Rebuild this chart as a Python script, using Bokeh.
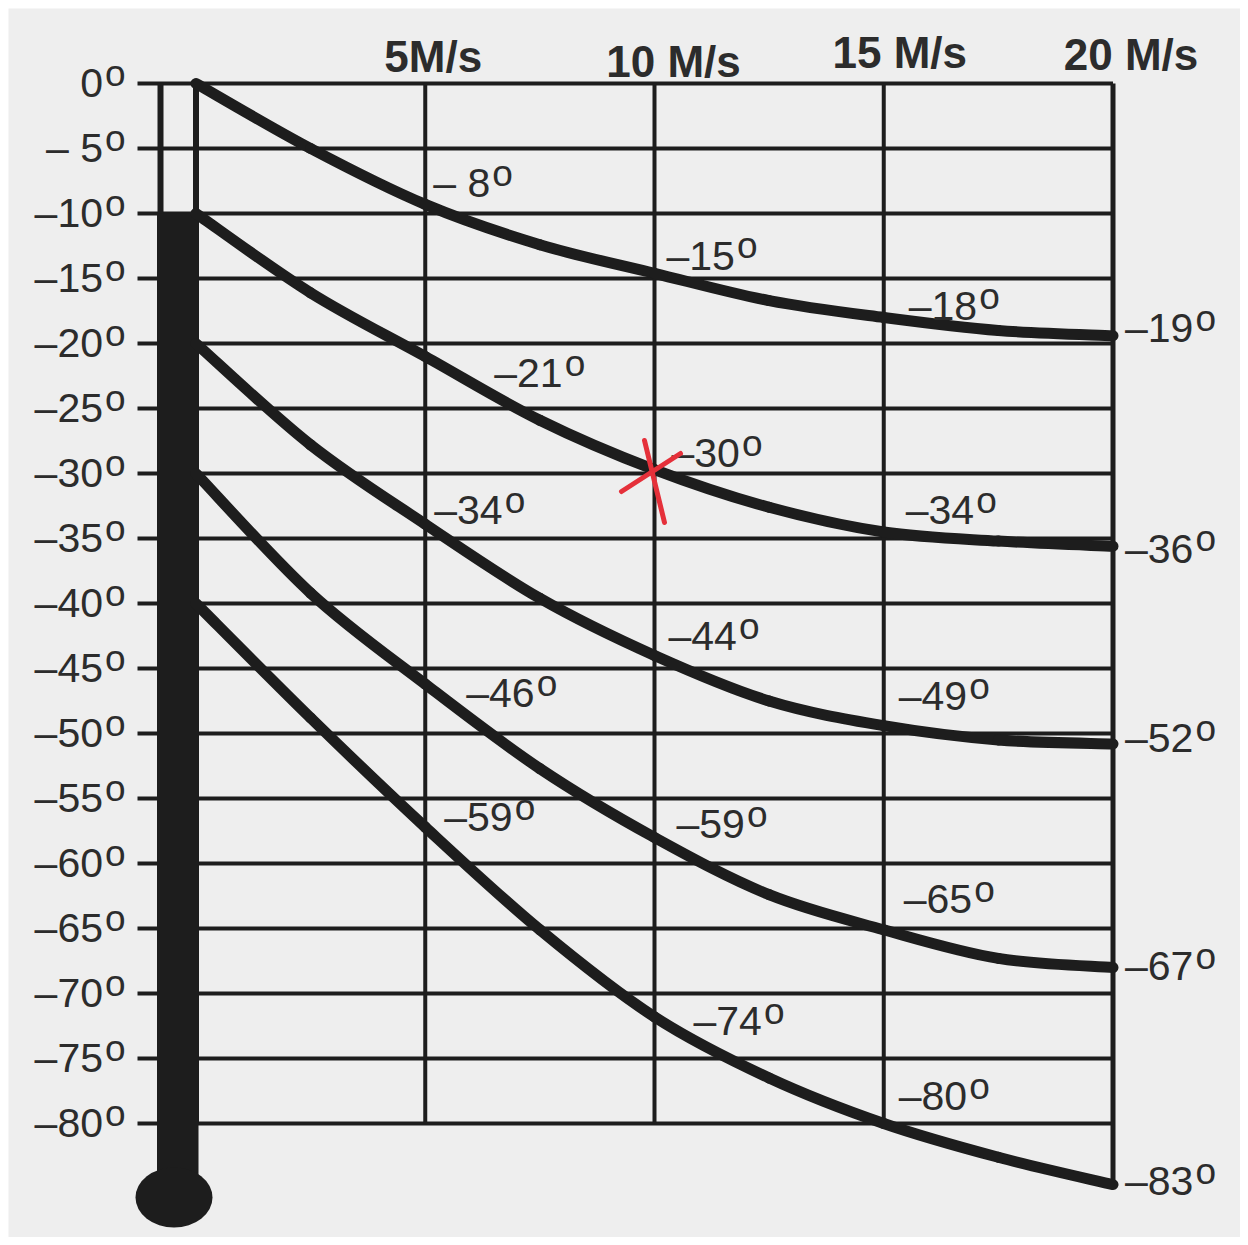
from bokeh.plotting import figure
from bokeh.models import Range1d, ColumnDataSource
from bokeh.core.properties import value
from bokeh.embed import file_html
from bokeh.resources import INLINE

# ---------------- data ----------------
speeds = [0, 2.5, 5, 7.5, 10, 12.5, 15, 17.5, 20]          # wind speed, m/s
chill_0 = [0, -5.0, -9.3, -12.4, -14.6, -16.7, -18.0, -19.0, -19.4]
chill_10 = [-10, -16.1, -21.0, -25.9, -29.7, -32.6, -34.5, -35.2, -35.6]
chill_20 = [-20, -27.8, -33.9, -39.6, -44.0, -47.5, -49.4, -50.5, -50.8]
chill_30 = [-30, -39.2, -46.2, -52.7, -58.0, -62.4, -65.1, -67.3, -68.0]
chill_40 = [-40, -48.8, -57.2, -65.1, -71.8, -76.5, -80.0, -82.6, -84.7]

temp_ticks = [0, -5, -10, -15, -20, -25, -30, -35, -40, -45, -50, -55, -60, -65, -70, -75, -80]
temp_labels = ["0", "– 5", "–10", "–15", "–20", "–25", "–30", "–35", "–40",
               "–45", "–50", "–55", "–60", "–65", "–70", "–75", "–80"]
speed_ticks = [5, 10, 15, 20]
speed_labels = ["5M/s", "10 M/s", "15 M/s", "20 M/s"]

label_speeds = [5, 10, 15]
labels_0 = ["– 8", "–15", "–18"]
labels_10 = ["–21", "–30", "–34"]
labels_20 = ["–34", "–44", "–49"]
labels_30 = ["–46", "–59", "–65"]
labels_40 = ["–59", "–74", "–80"]
end_labels = ["–19", "–36", "–52", "–67", "–83"]
filled_to = -10        # thermometer column filled from this temperature down
marked_speed, marked_temp = 10, -30   # red hand mark

curves = [chill_0, chill_10, chill_20, chill_30, chill_40]
curve_labels = [labels_0, labels_10, labels_20, labels_30, labels_40]

# ---------------- styling / layout ----------------
W, H = 1240, 1237
M = 8                       # white margin (left/top) round the paper
FW, FH = W - M, H - M       # frame size
PX = 45.85      # px per m/s
PY = 13.0       # px per degree
X0 = -(195.5 - M) / PX
Y1 = (83 - M) / PY
INK = "#1d1d1d"
TXT = "#2c2c2c"
PAPER = "#eeeeee"
FONT = value("Liberation Sans")
FS = 41
OFS = 37
BASE = 0.36     # baseline correction factor (fraction of font size)

# pixel offsets of the in-chart labels (dx, dy of baseline vs curve point)
label_offsets = [
    [(8, -7), (12, -3), (25, 3)],
    [(69, 31), (17, -2), (22, -7)],
    [(9, 1), (14, -5), (15, -15)],
    [(41, 24), (22, 1), (20, -16)],
    [(19, 5), (39, 19), (15, -13)],
]
end_offsets = [7, 17, 9, 13, 11]
top_offsets = [(8, -11), (19, -6), (16, -15), (18, -13)]

CW = {"–": 556, " ": 278, "0": 556, "1": 556, "2": 556, "3": 556, "4": 556,
      "5": 556, "6": 556, "7": 556, "8": 556, "9": 556}


def twidth(s, size):
    return sum(CW.get(c, 556) for c in s) / 1000.0 * size


def bl(dy, size):
    return dy - BASE * size


p = figure(width=W, height=H, output_backend="svg", toolbar_location=None,
           x_range=Range1d(X0, X0 + FW / PX), y_range=Range1d(Y1 - FH / PY, Y1),
           x_axis_location=None, y_axis_location=None,
           min_border_left=M, min_border_top=M, min_border_right=0, min_border_bottom=0,
           background_fill_color=PAPER, border_fill_color="white",
           outline_line_color=None)
p.grid.visible = False

# horizontal lines (with tick stubs to the left of the thermometer)
x_left = -58.5 / PX
p.segment(x0=[x_left] * len(temp_ticks), y0=temp_ticks,
          x1=[speed_ticks[-1]] * len(temp_ticks), y1=temp_ticks,
          line_width=4, line_color=INK)
# vertical lines
p.segment(x0=speed_ticks[:-1], y0=[temp_ticks[0]] * 3, x1=speed_ticks[:-1],
          y1=[temp_ticks[-1]] * 3, line_width=4, line_color=INK)
p.segment(x0=[speed_ticks[-1]], y0=[temp_ticks[0]], x1=[speed_ticks[-1]],
          y1=[chill_40[-1]], line_width=5, line_color=INK)

# thermometer
tube_l = -35.5 / PX
p.segment(x0=[tube_l, 0], y0=[0, 0], x1=[tube_l, 0], y1=[filled_to, temp_ticks[-1]],
          line_width=6, line_color=INK)
bulb_y = temp_ticks[-1] - 74 / PY
p.quad(left=[tube_l - 3.5 / PX], right=[2.5 / PX], top=[filled_to],
       bottom=[bulb_y + 10 / PY], fill_color=INK, line_color=None)
p.ellipse(x=[-22 / PX], y=[bulb_y], width=[77 / PX], height=[60 / PY],
          fill_color=INK, line_color=None)


# wind-chill curves: smooth cubic pieces passing through every read point
def bezier_source(xs, ys):
    n = len(xs)
    d = dict(x0=[], y0=[], x1=[], y1=[], cx0=[], cy0=[], cx1=[], cy1=[])
    for i in range(n - 1):
        a = max(i - 1, 0)
        b = min(i + 2, n - 1)
        d["x0"].append(xs[i]); d["y0"].append(ys[i])
        d["x1"].append(xs[i + 1]); d["y1"].append(ys[i + 1])
        d["cx0"].append(xs[i] + (xs[i + 1] - xs[a]) / 6.0)
        d["cy0"].append(ys[i] + (ys[i + 1] - ys[a]) / 6.0)
        d["cx1"].append(xs[i + 1] - (xs[b] - xs[i]) / 6.0)
        d["cy1"].append(ys[i + 1] - (ys[b] - ys[i]) / 6.0)
    return ColumnDataSource(d)


for c in curves:
    p.bezier(x0="x0", y0="y0", x1="x1", y1="y1", cx0="cx0", cy0="cy0",
             cx1="cx1", cy1="cy1", source=bezier_source(speeds, c),
             line_width=11, line_color=INK, line_cap="round")

# left temperature labels
src_l = ColumnDataSource(dict(x=[0] * len(temp_ticks), y=temp_ticks, t=temp_labels))
p.text(x="x", y="y", text="t", source=src_l, x_offset=-93, y_offset=bl(14, FS),
       text_align="right", text_baseline="alphabetic", text_font=FONT,
       text_font_size=value(f"{FS}px"), text_color=TXT)
p.text(x="x", y="y", text=value("o"), source=src_l, x_offset=-91, y_offset=bl(3, OFS),
       text_align="left", text_baseline="alphabetic", text_font=FONT,
       text_font_size=value(f"{OFS}px"), text_color=TXT)

# top speed labels
p.text(x=speed_ticks, y=[0] * 4, text=speed_labels,
       x_offset=[o[0] for o in top_offsets], y_offset=[bl(o[1], 44) for o in top_offsets],
       text_align="center", text_baseline="alphabetic", text_font=FONT,
       text_font_style="bold", text_font_size=value("44px"), text_color=TXT)

# in-chart labels
lx, ly, lt, ldx, ldy, odx, ody = [], [], [], [], [], [], []
for ci, c in enumerate(curves):
    for li, sp in enumerate(label_speeds):
        t = curve_labels[ci][li]
        dx, dy = label_offsets[ci][li]
        lx.append(sp); ly.append(c[speeds.index(sp)]); lt.append(t)
        ldx.append(dx); ldy.append(bl(dy, FS))
        odx.append(dx + twidth(t, FS) + 2); ody.append(bl(dy - 11, OFS))
    t = end_labels[ci]
    lx.append(speeds[-1]); ly.append(c[-1]); lt.append(t)
    ldx.append(12); ldy.append(bl(end_offsets[ci], FS))
    odx.append(12 + twidth(t, FS) + 2); ody.append(bl(end_offsets[ci] - 11, OFS))

src_i = ColumnDataSource(dict(x=lx, y=ly, t=lt, dx=ldx, dy=ldy, odx=odx, ody=ody))
p.text(x="x", y="y", text="t", source=src_i, x_offset="dx", y_offset="dy",
       text_align="left", text_baseline="alphabetic", text_font=FONT,
       text_font_size=value(f"{FS}px"), text_color=TXT)
p.text(x="x", y="y", text=value("o"), source=src_i, x_offset="odx", y_offset="ody",
       text_align="left", text_baseline="alphabetic", text_font=FONT,
       text_font_size=value(f"{OFS}px"), text_color=TXT)

# red hand-drawn mark
mx0 = [marked_speed - 10 / PX, marked_speed - 33 / PX]
my0 = [marked_temp + 33 / PY, marked_temp - 18 / PY]
mx1 = [marked_speed + 10 / PX, marked_speed + 26 / PX]
my1 = [marked_temp - 49 / PY, marked_temp + 20 / PY]
p.segment(x0=mx0, y0=my0, x1=mx1, y1=my1, line_width=5, line_color="#e5303a",
          line_cap="round")

open("out.html", "w").write(file_html(p, INLINE))
